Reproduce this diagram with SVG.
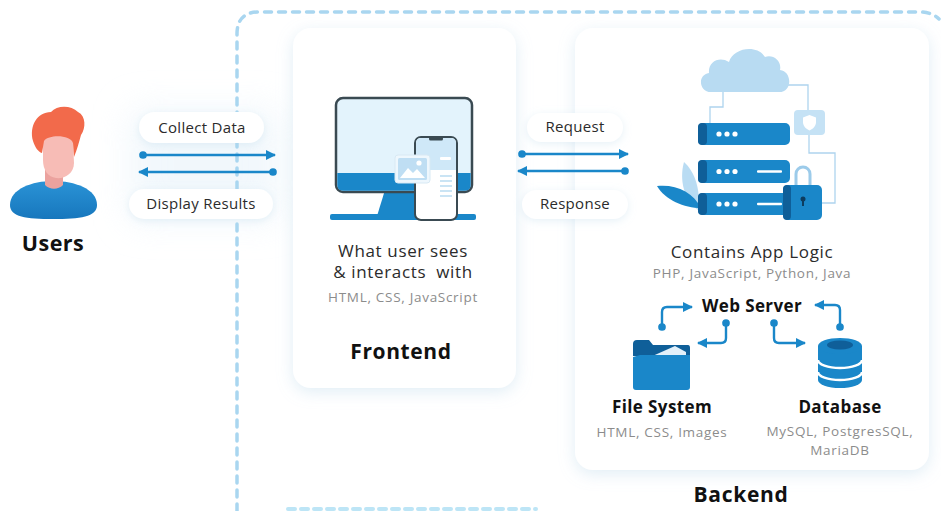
<svg xmlns="http://www.w3.org/2000/svg" width="941" height="511" viewBox="0 0 941 511">
  <defs>
    <filter id="cardShadow" x="-20%" y="-20%" width="140%" height="140%">
      <feDropShadow dx="0" dy="4" stdDeviation="8" flood-color="#a9cfe4" flood-opacity="0.35"/>
    </filter>
    <filter id="pillShadow" x="-30%" y="-60%" width="160%" height="220%">
      <feDropShadow dx="0" dy="2" stdDeviation="4" flood-color="#b7d6e8" flood-opacity="0.35"/>
    </filter>
    <filter id="haze" x="-50%" y="-50%" width="200%" height="200%">
      <feGaussianBlur stdDeviation="18"/>
    </filter>
    <linearGradient id="shirt" x1="0" y1="0" x2="0" y2="1">
      <stop offset="0" stop-color="#2a93d6"/>
      <stop offset="1" stop-color="#1777bd"/>
    </linearGradient>
    <marker id="head" viewBox="0 0 10 10" refX="9" refY="5" markerWidth="4.2" markerHeight="4.2" orient="auto-start-reverse">
      <path d="M0,0 L10,5 L0,10 Z" fill="#1a87c9"/>
    </marker>
    <marker id="dot" viewBox="0 0 10 10" refX="5" refY="5" markerWidth="3.2" markerHeight="3.2">
      <circle cx="5" cy="5" r="5" fill="#1a87c9"/>
    </marker>
    <style>
      .t { font-family: "Open Sans", "Liberation Sans", sans-serif; fill: #2b2b2b; font-size: 17px; letter-spacing: 0.65px; }
      .lbl { font-family: "Open Sans", "Liberation Sans", sans-serif; fill: #2b2b2b; font-size: 15px; letter-spacing: 0.3px; }
      .sub { font-family: "Open Sans", "Liberation Sans", sans-serif; fill: #8c8c8c; font-size: 13.5px; letter-spacing: 0.7px; }
      .bold { font-family: "Open Sans", "Liberation Sans", sans-serif; font-weight: 700; fill: #111; }
      .pill { fill: #ffffff; filter: url(#pillShadow); }
      .card { fill: #ffffff; filter: url(#cardShadow); }
      .flow { fill: none; stroke: #1a87c9; stroke-width: 2.4; marker-start: url(#dot); marker-end: url(#head); }
      .thin { fill: none; stroke: #aed4ee; stroke-width: 1.3; }
      .blue { fill: #1a87c9; }
      .dark { fill: #0f5f99; }
    </style>
  </defs>

  <rect width="941" height="511" fill="#ffffff"/>

  <!-- soft tint behind the left connectors -->
  <rect x="130" y="110" width="150" height="110" fill="#e8f3fa" opacity="0.6" filter="url(#haze)"/>

  <!-- dashed outline around the web application -->
  <g id="app-boundary" fill="none" stroke="#a9d6f0" stroke-width="3.5" stroke-linecap="round">
    <path d="M237,511 V34 Q237,12 259,12 H920 Q932,12 939,19" stroke-dasharray="7 7"/>
    <path d="M288,509 H536" stroke="#bde5f6" stroke-width="4" stroke-dasharray="7 6"/>
  </g>

  <!-- Users -->
  <g id="users">
    <path d="M10,205 C10,189 32,181 53,181 C75,181 97,189 97,205 C97,217 80,219 53,219 C26,219 10,217 10,205 Z" fill="url(#shirt)"/>
    <path d="M45,165 H63 V185 C58,190 50,190 45,185 Z" fill="#eba29e"/>
    <path d="M43,140 C45,131 71,130 73,142 L74,163 C74,174 64,179 56,178 C48,177 43,170 43,160 Z" fill="#f7bcb6"/>
    <path d="M33,141 C29,126 37,112 51,112 C57,105 71,105 78,112 C86,116 86,128 81,135 C79,142 77,150 74,157 L73,143 C71,135 49,134 44,141 L42,153 C38,152 35,147 33,141 Z" fill="#f26a4b"/>
    <text class="bold" x="53" y="251" font-size="21.5" letter-spacing="0.5" text-anchor="middle">Users</text>
  </g>

  <!-- Frontend card -->
  <g id="frontend">
    <rect class="card" x="293" y="28" width="223" height="360" rx="18"/>
    <!-- monitor -->
    <path d="M385,190 H423 L431,216 H377 Z" class="blue"/>
    <rect x="330" y="214" width="146" height="6" rx="2" class="blue"/>
    <rect x="336" y="98" width="136" height="94" rx="7" fill="#e3f3fc" stroke="#3a4a52" stroke-width="2.5"/>
    <path d="M337.3,173 H470.7 V185 Q470.7,190.7 465,190.7 H343 Q337.3,190.7 337.3,185 Z" class="blue"/>
    <!-- phone -->
    <rect x="415" y="137" width="42" height="83" rx="6" fill="#ffffff" stroke="#3a4a52" stroke-width="2"/>
    <path d="M416,143 Q416,138 421,138 H451 Q456,138 456,143 V170 H416 Z" fill="#cfe8f8"/>
    <rect x="429" y="137" width="14" height="3.5" rx="1.5" fill="#3a4a52"/>
    <rect x="440" y="157" width="11" height="3" rx="1" fill="#ffffff"/>
    <g stroke="#b9dbf0" stroke-width="1.5">
      <line x1="440" y1="176" x2="452" y2="176"/>
      <line x1="440" y1="181" x2="452" y2="181"/>
      <line x1="440" y1="186" x2="452" y2="186"/>
      <line x1="440" y1="191" x2="452" y2="191"/>
      <line x1="440" y1="196" x2="452" y2="196"/>
    </g>
    <!-- picture card -->
    <rect x="395" y="155" width="35" height="28" rx="3" fill="#eef7fd" stroke="#d8e9f4" stroke-width="1"/>
    <rect x="398" y="158" width="29" height="22" rx="1.5" fill="#bfdef3"/>
    <path d="M400,178 L408,168 L413,173 L417,169 L425,178 Z" fill="#ffffff"/>
    <circle cx="419" cy="163" r="2.6" fill="#ffffff"/>
    <text class="t" x="403" y="257" text-anchor="middle">What user sees</text>
    <text class="t" x="403" y="278" text-anchor="middle" xml:space="preserve">&amp; interacts  with</text>
    <text class="sub" x="403" y="302" text-anchor="middle">HTML, CSS, JavaScript</text>
    <text class="bold" x="401" y="359" font-size="21" letter-spacing="0.6" text-anchor="middle">Frontend</text>
  </g>

  <!-- Backend card -->
  <g id="backend">
    <rect class="card" x="575" y="28" width="354" height="442" rx="18"/>
    <!-- thin wiring -->
    <path class="thin" d="M723,90 V107 H710 V123"/>
    <path class="thin" d="M786,85 H808 V110"/>
    <path class="thin" d="M809,135 V153 H835 V203 H822"/>
    <!-- cloud -->
    <path d="M711,92 C699,92 697,75 709,73 C708,61 720,56 729,62 C733,48 757,44 765,57 C773,54 782,61 780,70 C792,71 793,92 779,92 Z" fill="#b8dbf2"/>
    <!-- shield tile -->
    <rect x="794" y="110" width="31" height="25" rx="4" fill="#c5e2f5"/>
    <path d="M809.5,115 L816,117.5 V122 C816,126 813,129 809.5,130.5 C806,129 803,126 803,122 V117.5 Z" fill="#ffffff"/>
    <!-- leaves -->
    <path d="M698,210 C684,200 679,180 684,162 C695,172 701,190 698,210 Z" fill="#b9dcf3"/>
    <path d="M701,208 C684,208 665,200 657,186 C676,184 693,192 701,208 Z" class="blue"/>
    <!-- server units -->
    <g id="server-units">
      <rect x="698" y="123" width="92" height="22" rx="5" class="blue"/>
      <rect x="698" y="123" width="9" height="22" rx="4" class="dark"/>
      <rect x="698" y="160" width="92" height="23" rx="5" class="blue"/>
      <rect x="698" y="160" width="9" height="23" rx="4" class="dark"/>
      <rect x="698" y="193" width="92" height="22" rx="5" class="blue"/>
      <rect x="698" y="193" width="9" height="22" rx="4" class="dark"/>
      <g fill="#ffffff">
        <circle cx="719" cy="134" r="2.6"/><circle cx="727" cy="134" r="2.6"/><circle cx="735" cy="134" r="2.6"/>
        <circle cx="719" cy="171.5" r="2.6"/><circle cx="727" cy="171.5" r="2.6"/><circle cx="735" cy="171.5" r="2.6"/>
        <circle cx="719" cy="204" r="2.6"/><circle cx="727" cy="204" r="2.6"/><circle cx="735" cy="204" r="2.6"/>
        <rect x="757" y="170.3" width="25" height="2.5" rx="1"/>
        <rect x="757" y="202.8" width="25" height="2.5" rx="1"/>
      </g>
    </g>
    <!-- padlock -->
    <path d="M796,187 V174 A7,7 0 0 1 810,174 V187" fill="none" stroke="#9ccbea" stroke-width="3"/>
    <rect x="783" y="185" width="39" height="35" rx="5" class="blue"/>
    <rect x="783" y="185" width="8" height="35" rx="4" class="dark"/>
    <circle cx="803" cy="199" r="2.5" fill="#0d3c5e"/>
    <rect x="802" y="199" width="2" height="7" fill="#0d3c5e"/>

    <text class="t" x="752" y="258" text-anchor="middle">Contains App Logic</text>
    <text class="sub" x="752" y="278" text-anchor="middle">PHP, JavaScript, Python, Java</text>
    <text class="bold" x="752" y="312" font-size="17" letter-spacing="0.4" text-anchor="middle">Web Server</text>

    <!-- folder -->
    <g id="file-system">
      <path d="M633,344 Q633,340 637,340 H649 L653,345 H688 Q690,345 690,348 V356 H633 Z" class="dark"/>
      <path d="M648,358 L675,346 L686,352 L686,360 Z" fill="#e2f0fa"/>
      <path d="M633,357 L640,355 H690 V387 Q690,390 687,390 H636 Q633,390 633,387 Z" class="blue"/>
      <text class="bold" x="662" y="413" font-size="17" letter-spacing="0.4" text-anchor="middle">File System</text>
      <text class="sub" x="662" y="437" text-anchor="middle">HTML, CSS, Images</text>
    </g>

    <!-- database -->
    <g id="database">
      <path d="M818,346 V380 A22,8 0 0 0 862,380 V346 Z" class="blue"/>
      <ellipse cx="840" cy="346" rx="22" ry="8" class="blue"/>
      <ellipse cx="840" cy="345" rx="13" ry="4.5" class="dark"/>
      <path d="M818,360 A22,8 0 0 0 862,360" fill="none" stroke="#ffffff" stroke-width="2.5"/>
      <path d="M818,372 A22,8 0 0 0 862,372" fill="none" stroke="#ffffff" stroke-width="2.5"/>
      <text class="bold" x="840" y="413" font-size="17" letter-spacing="0.4" text-anchor="middle">Database</text>
      <text class="sub" x="840" y="436" text-anchor="middle">MySQL, PostgresSQL,</text>
      <text class="sub" x="840" y="455" text-anchor="middle">MariaDB</text>
    </g>

    <text class="bold" x="741" y="502" font-size="21" letter-spacing="0.7" text-anchor="middle">Backend</text>
  </g>

  <!-- connector labels -->
  <g id="labels">
    <rect class="pill" x="139" y="112" width="125" height="31" rx="15.5"/>
    <text class="lbl" x="202" y="133" text-anchor="middle">Collect Data</text>
    <rect class="pill" x="129" y="189" width="144" height="30" rx="15"/>
    <text class="lbl" x="201" y="209" text-anchor="middle">Display Results</text>
    <rect class="pill" x="527" y="113" width="96" height="29" rx="14.5"/>
    <text class="lbl" x="575" y="132" text-anchor="middle">Request</text>
    <rect class="pill" x="522" y="190" width="106" height="29" rx="14.5"/>
    <text class="lbl" x="575" y="209" text-anchor="middle">Response</text>
  </g>

  <!-- connectors -->
  <g id="connectors">
    <path class="flow" d="M143,155 H275"/>
    <path class="flow" d="M273,172 H139"/>
    <path class="flow" d="M522,154 H628"/>
    <path class="flow" d="M625,171 H518"/>
    <path class="flow" d="M662,327 V312 Q662,307 667,307 H692"/>
    <path class="flow" d="M726,323 V338 Q726,343 721,343 H698"/>
    <path class="flow" d="M774,323 V338 Q774,343 779,343 H805"/>
    <path class="flow" d="M840,327 V310 Q840,305 835,305 H815"/>
  </g>
</svg>
